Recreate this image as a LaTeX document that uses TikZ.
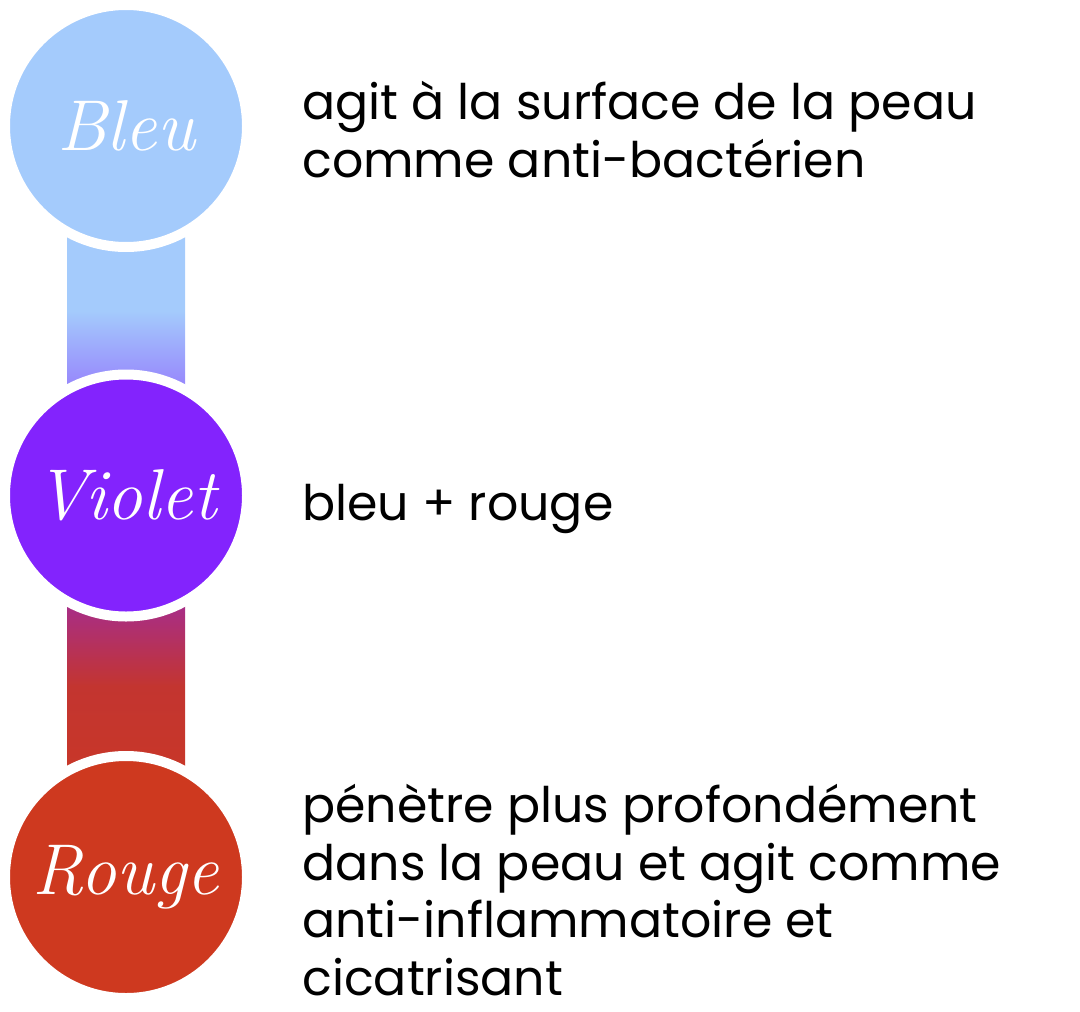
\documentclass[tikz,border=0pt]{standalone}
\usepackage{fontspec}
\newfontfamily\poppins{Poppins}
\usepackage{tikz}
\usetikzlibrary{positioning,calc,backgrounds}
\definecolor{bleuclair}{HTML}{A4CBFC}
\definecolor{violetvif}{HTML}{8323FD}
\definecolor{brique}{HTML}{C33530}
\definecolor{rougebrique}{HTML}{CE391F}

\begin{document}
\begin{tikzpicture}[
x=0.5pt,y=-0.5pt,
node distance=63.75pt,
dot/.style={circle,draw=white,line width=5pt,outer sep=0pt,minimum size=121pt,inner sep=0pt,text=white,font=\fontsize{36}{40}\selectfont\itshape},
desc/.style={anchor=base west,align=left,inner sep=0pt,font=\poppins\fontsize{24.5}{28.75}\selectfont}
]
\useasboundingbox (0,0) rectangle (1080,1011);
\node[dot,fill=bleuclair] (bleu) at (126,126) {Bleu};
\node[dot,fill=violetvif,below=of bleu] (violet) {Violet};
\node[dot,fill=rougebrique,below=69.75pt of violet] (rouge) {Rouge};

% base = last line
\node[desc] (tbleu) at (302,177) {agit à la surface de la peau\\comme anti-bactérien};
\node[desc] (tviolet) at (302,520) {bleu + rouge};
\node[desc] (trouge) at (302,995) {pénètre plus profondément\\dans la peau et agit comme\\anti-inflammatoire et\\cicatrisant};

\begin{scope}[on background layer]
\shade[top color=bleuclair,bottom color=violetvif,middle color=bleuclair] ($(bleu.center)+(-59,0)$) rectangle ($(violet.center)+(59,0)$);
\shade[top color=violetvif,bottom color=rougebrique,middle color=brique] ($(violet.center)+(-59,0)$) rectangle ($(rouge.center)+(59,0)$);
\end{scope}
\end{tikzpicture}
\end{document}
